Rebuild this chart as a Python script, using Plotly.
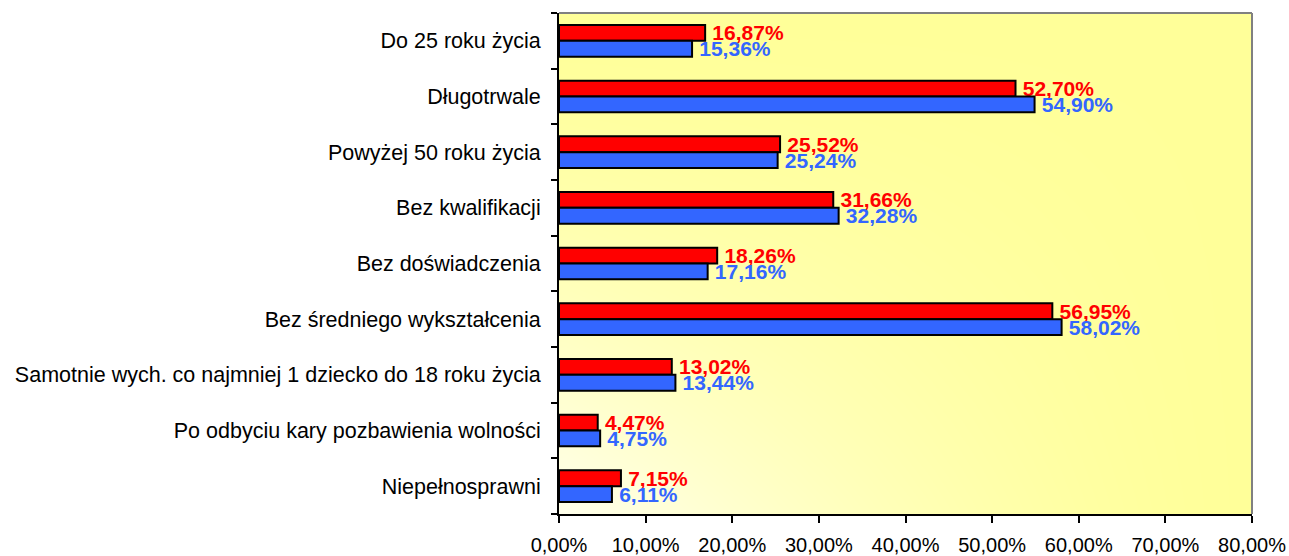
import numpy as np
import plotly.graph_objects as go

categories = [
    "Do 25 roku życia",
    "Długotrwale",
    "Powyżej 50 roku życia",
    "Bez kwalifikacji",
    "Bez doświadczenia",
    "Bez średniego wykształcenia",
    "Samotnie wych. co najmniej 1 dziecko do 18 roku życia",
    "Po odbyciu kary pozbawienia wolności",
    "Niepełnosprawni",
]
red_values = [16.87, 52.70, 25.52, 31.66, 18.26, 56.95, 13.02, 4.47, 7.15]
blue_values = [15.36, 54.90, 25.24, 32.28, 17.16, 58.02, 13.44, 4.75, 6.11]
x_ticks = [0, 10, 20, 30, 40, 50, 60, 70, 80]
x_tick_labels = ["0,00%", "10,00%", "20,00%", "30,00%", "40,00%",
                 "50,00%", "60,00%", "70,00%", "80,00%"]

FONT = "Liberation Sans, Arial, sans-serif"
ypos = list(range(len(categories)))

# background gradient (decorative)
N, M = 60, 60
xe = np.linspace(0, 80, N + 1)
ye = np.linspace(-0.5, len(categories) - 0.5, M + 1)
xc = (xe[:-1] + xe[1:]) / 2
yc = (ye[:-1] + ye[1:]) / 2
U, V = np.meshgrid(xc / 80.0, (len(categories) - 0.5 - yc) / len(categories))
Z = 1 - ((1 - U) * (1 - V)) ** 1.5

fig = go.Figure()
fig.add_trace(go.Heatmap(
    x=xe, y=ye, z=Z, zsmooth="best", showscale=False, hoverinfo="skip",
    colorscale=[[0, "#FFFFEC"], [1, "#FFFF99"]], zmin=0, zmax=1,
))
fig.add_trace(go.Bar(
    y=ypos, x=red_values, orientation="h", name="red",
    marker=dict(color="#FF0000", line=dict(color="black", width=2)),
    texttemplate="\u2009%{x:.2f}%", textposition="outside",
    textfont=dict(family=FONT, size=21, color="#FF0000", weight="bold"),
    constraintext="none", cliponaxis=False, showlegend=False,
))
fig.add_trace(go.Bar(
    y=ypos, x=blue_values, orientation="h", name="blue",
    marker=dict(color="#3366FF", line=dict(color="black", width=2)),
    texttemplate="\u2009%{x:.2f}%", textposition="outside",
    textfont=dict(family=FONT, size=21, color="#3366FF", weight="bold"),
    constraintext="none", cliponaxis=False, showlegend=False,
))

fig.update_layout(
    width=1289, height=556,
    margin=dict(l=559, r=37, t=13, b=42),
    paper_bgcolor="white", plot_bgcolor="#FFFF99",
    barmode="group", bargap=0.43, bargroupgap=0,
    separators=", ",
    font=dict(family=FONT, size=20, color="black"),
    xaxis=dict(
        range=[0, 80], tickmode="array", tickvals=x_ticks, ticktext=x_tick_labels,
        ticks="outside", ticklen=7, tickwidth=2, tickcolor="black",
        ticklabelstandoff=5,
        showline=True, linewidth=2, linecolor="black",
        showgrid=False, zeroline=False, automargin=False,
        tickfont=dict(family=FONT, size=20, color="black"),
    ),
    yaxis=dict(
        range=[len(categories) - 0.5, -0.5],
        tickmode="array", tickvals=ypos, ticktext=categories,
        ticks="", ticklabelstandoff=12,
        showline=True, linewidth=2, linecolor="black",
        showgrid=False, zeroline=False, automargin=False,
        tickfont=dict(family=FONT, size=21.5, color="black"),
        minor=dict(tickmode="array",
                   tickvals=[i - 0.5 for i in range(len(categories) + 1)],
                   ticks="outside", ticklen=6, tickwidth=2, tickcolor="black",
                   showgrid=False),
    ),
    shapes=[
        dict(type="line", xref="paper", yref="paper", x0=0, x1=1, y0=1, y1=1,
             line=dict(color="#808080", width=2), layer="above"),
        dict(type="line", xref="paper", yref="paper", x0=1, x1=1, y0=0, y1=1,
             line=dict(color="#808080", width=2), layer="above"),
    ],
)

fig.write_html(
    "out.html",
    config={"displayModeBar": False},
    post_script="document.body.style.margin='0';document.body.style.overflow='hidden';",
)
